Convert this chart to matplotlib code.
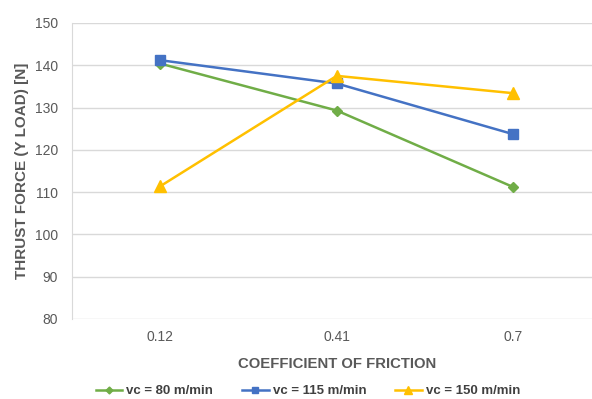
import matplotlib
matplotlib.use("Agg")
import matplotlib.pyplot as plt

plt.rcParams['font.family'] = ['Liberation Sans', 'DejaVu Sans']

friction = ["0.12", "0.41", "0.7"]
vc80 = [140.4, 129.3, 111.2]
vc115 = [141.2, 135.7, 123.7]
vc150 = [111.4, 137.5, 133.4]
series_labels = ["vc = 80 m/min", "vc = 115 m/min", "vc = 150 m/min"]
y_ticks = [80, 90, 100, 110, 120, 130, 140, 150]

fig = plt.figure(figsize=(5.92, 3.99), dpi=100)
ax = fig.add_axes([72 / 592, 1 - 319 / 399, 529.5 / 592, 296 / 399])

x = range(len(friction))
ax.plot(x, vc80, color="#70AD47", lw=1.8, marker="D", ms=5, label=series_labels[0])
ax.plot(x, vc115, color="#4472C4", lw=1.8, marker="s", ms=7, label=series_labels[1])
ax.plot(x, vc150, color="#FFC000", lw=1.8, marker="^", ms=8, label=series_labels[2])

ax.set_xlim(-0.5, 2.5)
ax.set_ylim(80, 150)
ax.set_yticks(y_ticks)
ax.set_xticks(list(x))
ax.set_xticklabels(friction)
ax.grid(axis="y", color="#D9D9D9", lw=1)
ax.set_axisbelow(True)
for s in ["top", "right", "bottom"]:
    ax.spines[s].set_visible(False)
ax.spines["left"].set_color("#D9D9D9")
ax.tick_params(length=0, colors="#595959", labelsize=10)
ax.tick_params(axis="x", pad=8)
ax.tick_params(axis="y", pad=10)

ax.set_ylabel("THRUST FORCE (Y LOAD) [N]", fontsize=11, fontweight="bold",
              color="#595959", labelpad=4)
ax.set_xlabel("COEFFICIENT OF FRICTION", fontsize=10.7, fontweight="bold",
              color="#595959", labelpad=9)

leg = fig.legend(loc="center", bbox_to_anchor=(308 / 592, 1 - 391 / 399), ncol=3,
                 frameon=False, fontsize=9.5, handlelength=2.0, columnspacing=2.2,
                 handletextpad=0.3, markerscale=0.7)
for t in leg.get_texts():
    t.set_color("#404040")
    t.set_fontweight("bold")

fig.savefig("out.png", dpi=100)
